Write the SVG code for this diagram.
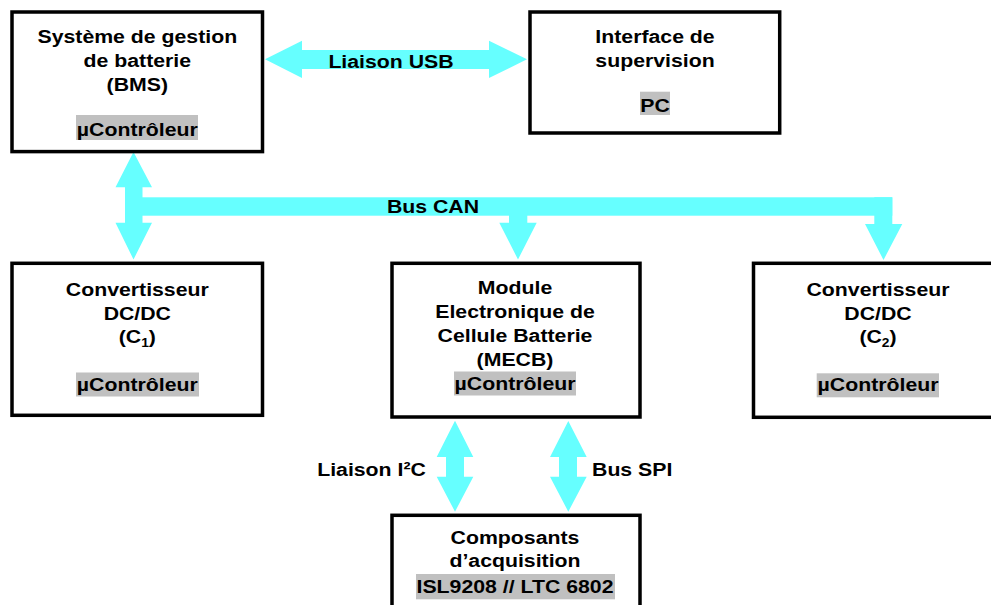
<svg xmlns="http://www.w3.org/2000/svg" width="991" height="605" viewBox="0 0 991 605">
<style>
.box{fill:#fff;stroke:#000;stroke-width:3.5}
.hl{fill:#c0c0c0}
.bus{fill:#66ffff;stroke:none}
text{font-family:"Liberation Sans",Arial,sans-serif;font-weight:bold;font-size:18.5px;fill:#000;text-anchor:middle}
</style>
<rect width="991" height="605" fill="#fff"/>
<g id="connectors">
  <polygon class="bus" points="265,59.3 302,40.7 302,50 489,50 489,40.7 527,59.3 489,78 489,69 302,69 302,78"/>
  <rect class="bus" x="140" y="197.3" width="752.3" height="18.4"/>
  <polygon class="bus" points="133.5,152 152,187.3 142.5,187.3 142.5,222.7 152,222.7 133.5,259.5 115.5,222.7 125,222.7 125,187.3 115.5,187.3"/>
  <polygon class="bus" points="509,210 527.3,210 527.3,222.7 536.7,222.7 518,259.5 499.3,222.7 509,222.7"/>
  <polygon class="bus" points="874.3,197.3 892.3,197.3 892.3,224 902.3,224 883.5,260 865,224 874.3,224"/>
  <polygon class="bus" points="455,420.7 473.3,457 464,457 464,476.7 473.3,476.7 455,511.7 436.7,476.7 446,476.7 446,457 436.7,457"/>
  <polygon class="bus" points="568.3,421 586.7,457 577,457 577,476.7 586.7,476.7 568.3,511.7 550,476.7 559,476.7 559,457 550,457"/>
  <g transform="translate(391 0) scale(1.15 1)"><text x="0" y="67.7">Liaison USB</text></g>
  <g transform="translate(433 0) scale(1.15 1)"><text x="0" y="212.7">Bus CAN</text></g>
  <g transform="translate(371.5 0) scale(1.15 1)"><text x="0" y="476">Liaison I²C</text></g>
  <g transform="translate(632.2 0) scale(1.15 1)"><text x="0" y="476">Bus SPI</text></g>
</g>
<g id="bms">
  <rect class="box" x="12" y="12" width="250.5" height="139.6"/>
  <rect class="hl" x="76" y="115" width="122" height="25"/>
  <g transform="translate(137.3 0) scale(1.15 1)">
    <text x="0" y="43">Système de gestion</text>
    <text x="0" y="67">de batterie</text>
    <text x="0" y="91.5">(BMS)</text>
    <text x="0" y="136">µContrôleur</text>
  </g>
</g>
<g id="pc">
  <rect class="box" x="530" y="12" width="249.7" height="121"/>
  <rect class="hl" x="640" y="91.7" width="30" height="23.3"/>
  <g transform="translate(655 0) scale(1.15 1)">
    <text x="0" y="42.7">Interface de</text>
    <text x="0" y="66.7">supervision</text>
    <text x="0" y="111.7">PC</text>
  </g>
</g>
<g id="c1">
  <rect class="box" x="12" y="263.3" width="250.5" height="152"/>
  <rect class="hl" x="76" y="372.5" width="123" height="24"/>
  <g transform="translate(137.3 0) scale(1.15 1)">
    <text x="0" y="296.5">Convertisseur</text>
    <text x="0" y="320">DC/DC</text>
    <text x="0" y="343">(C<tspan font-size="12" dy="4">1</tspan><tspan dy="-4">)</tspan></text>
    <text x="0" y="391">µContrôleur</text>
  </g>
</g>
<g id="mecb">
  <rect class="box" x="392" y="263.3" width="248" height="153.7"/>
  <rect class="hl" x="454" y="371.5" width="122" height="24"/>
  <g transform="translate(515 0) scale(1.15 1)">
    <text x="0" y="294">Module</text>
    <text x="0" y="318">Electronique de</text>
    <text x="0" y="342">Cellule Batterie</text>
    <text x="0" y="366">(MECB)</text>
    <text x="0" y="390">µContrôleur</text>
  </g>
</g>
<g id="c2">
  <rect class="box" x="753.5" y="263.3" width="252" height="154"/>
  <rect class="hl" x="816.7" y="373.3" width="122.3" height="24"/>
  <g transform="translate(878 0) scale(1.15 1)">
    <text x="0" y="296">Convertisseur</text>
    <text x="0" y="320">DC/DC</text>
    <text x="0" y="343">(C<tspan font-size="12" dy="4">2</tspan><tspan dy="-4">)</tspan></text>
    <text x="0" y="391.5">µContrôleur</text>
  </g>
</g>
<g id="acquisition">
  <rect class="box" x="392" y="515.3" width="248" height="120"/>
  <rect class="hl" x="416" y="574" width="199" height="25.3"/>
  <g transform="translate(515 0) scale(1.15 1)">
    <text x="0" y="544">Composants</text>
    <text x="0" y="567">d’acquisition</text>
    <text x="0" y="593.3">ISL9208 // LTC 6802</text>
  </g>
</g>
</svg>
